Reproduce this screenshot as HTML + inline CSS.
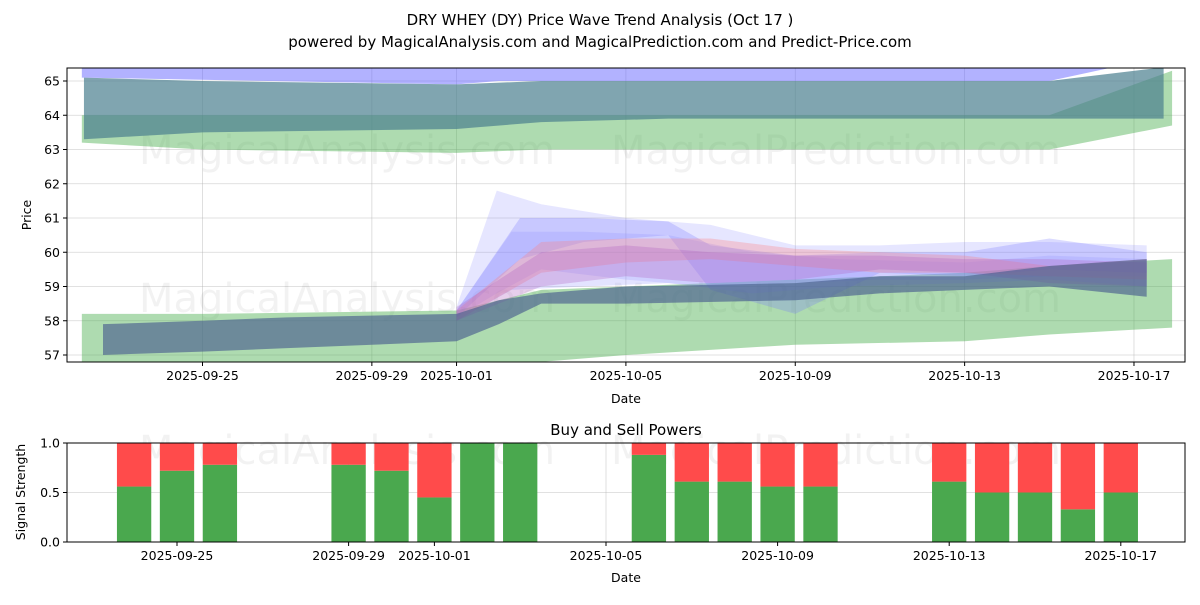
<!DOCTYPE html>
<html><head><meta charset="utf-8"><style>
body{margin:0;background:#fff;font-family:"Liberation Sans","DejaVu Sans",sans-serif;}
svg text{font-family:"DejaVu Sans","Liberation Sans",sans-serif;}
</style></head><body>
<svg id="c" width="1200" height="600" xmlns="http://www.w3.org/2000/svg"></svg>
<script>
// ---- data ----
const xTickLabels=["2025-09-25","2025-09-29","2025-10-01","2025-10-05","2025-10-09","2025-10-13","2025-10-17"];
const xTickDays=[0,4,6,10,14,18,22];
const yTicks=[57,58,59,60,61,62,63,64,65];
// bands: x in days from 2025-09-25
const bandX_green=[-2.85,0,6,7,8,10,14,18,20,22.9];
const bandHi_green=[58.2,58.2,58.3,58.6,58.9,59.0,59.2,59.4,59.6,59.8];
const bandLo_green=[56.6,56.6,56.5,56.6,56.8,57.0,57.3,57.4,57.6,57.8];
const bandX_dark=[-2.35,0,2,6,7,8,10,14,16,18,20,22.3];
const bandHi_dark=[57.9,58.0,58.1,58.2,58.6,58.8,59.0,59.1,59.3,59.3,59.6,59.8];
const bandLo_dark=[57.0,57.1,57.2,57.4,57.9,58.5,58.5,58.6,58.8,58.9,59.0,58.7];
const bandX_w1=[6,6.95,8,10,12,14,16,18,20,22.3];
const bandHi_w1=[58.4,61.8,61.4,61.0,60.8,60.2,60.2,60.3,60.3,60.2];
const bandLo_w1=[58.1,58.8,59.5,59.2,59.0,59.1,59.2,59.2,59.3,59.3];
const bandX_w2=[6,7.5,9,11,12,14,16,18,20,22.3];
const bandHi_w2=[58.3,61.0,61.0,60.9,60.2,59.9,60.0,60.0,60.4,60.0];
const bandLo_w2=[58.1,59.8,60.3,60.5,58.9,58.2,59.4,59.3,59.5,59.4];
const bandX_w3=[6,8,10,12,14,16,18,20,22.3];
const bandHi_w3=[58.3,60.3,60.4,60.4,60.1,60.0,59.9,59.6,59.8];
const bandLo_w3=[58.0,59.4,59.7,59.8,59.6,59.4,59.4,59.3,59.2];
const bandX_w4=[6,8,10,12,14,16,18,20,22.3];
const bandHi_w4=[58.4,60.0,60.2,60.0,59.9,59.9,59.8,59.8,59.7];
const bandLo_w4=[58.0,59.0,59.3,59.1,59.2,59.5,59.4,59.1,59.0];
const bandX_w5=[6,7.3,9,11,13,15,18,20,22.3];
const bandHi_w5=[58.3,60.6,60.6,60.5,60.0,59.8,59.7,59.9,59.8];
const bandLo_w5=[58.0,58.9,59.0,59.1,58.8,59.0,59.1,59.2,59.0];
const bandX_top1=[-2.85,6,7,20,21.5,22.9];
const bandHi_top1=[65.6,65.6,65.6,65.6,65.6,65.6];
const bandLo_top1=[65.1,64.9,65.0,65.0,65.4,65.4];
const bandX_top2=[-2.8,0,6,8,11,20,22.7];
const bandHi_top2=[65.1,65.0,64.9,65.0,65.0,65.0,65.4];
const bandLo_top2=[63.3,63.5,63.6,63.8,63.9,63.9,63.9];
const bandX_top3=[-2.85,0,6,8,20,22.9];
const bandHi_top3=[64.0,64.0,64.0,64.0,64.0,65.3];
const bandLo_top3=[63.2,63.0,62.9,63.0,63.0,63.7];
const barDays=[-1,0,1,4,5,6,7,8,11,12,13,14,15,18,19,20,21,22];
const buyVals=[0.56,0.72,0.78,0.78,0.72,0.45,1,1,0.88,0.61,0.61,0.56,0.56,0.61,0.5,0.5,0.33,0.5];
const bTicks=[0,0.5,1.0];

// ---- scales ----
const L=67,R=1185,T1=68,B1=362,T2=443,B2=542;
const X=d=>202.5+d*42.34;
const Xb=d=>177+d*42.9;
const Y=v=>81+(65-v)*34.25;
const Y2=v=>542-v*99;
const svg=document.getElementById('c');
const NS="http://www.w3.org/2000/svg";
function mk(tag,at,parent){const e=document.createElementNS(NS,tag);for(const k in at)e.setAttribute(k,at[k]);(parent||svg).appendChild(e);return e;}
function txt(s,at,parent){const e=mk('text',at,parent);e.textContent=s;return e;}

const defs=mk('defs',{});
const cp=mk('clipPath',{id:'cp1'},defs);mk('rect',{x:L,y:T1,width:R-L,height:B1-T1},cp);

xTickDays.forEach(d=>{const g=mk('line',{x1:X(d),x2:X(d),y1:T1,y2:B1,stroke:'#b0b0b0','stroke-width':0.8,'stroke-opacity':0.5});

});
yTicks.forEach(v=>{const g=mk('line',{x1:L,x2:R,y1:Y(v),y2:Y(v),stroke:'#b0b0b0','stroke-width':0.8,'stroke-opacity':0.5});

});

[[347,150],[836,150],[347,298],[836,298],[347,450],[836,450]].forEach(p=>{
 const w=txt(p[0]<600?'MagicalAnalysis.com':'MagicalPrediction.com',{x:p[0],y:p[1]+14,'text-anchor':'middle','font-size':40,fill:'#000','fill-opacity':0.05});
 
 
});

const gB=mk('g',{'clip-path':'url(#cp1)'});
function band(xs,hi,lo,color,op,name){
 let pts=xs.map((d,i)=>X(d)+','+Y(hi[i]));
 for(let i=xs.length-1;i>=0;i--)pts.push(X(xs[i])+','+Y(lo[i]));
 const p=mk('polygon',{points:pts.join(' '),fill:color,'fill-opacity':op},gB);
 
 
}
band(bandX_top3,bandHi_top3,bandLo_top3,'#4caf50',0.45,'band-top-green');
band(bandX_top1,bandHi_top1,bandLo_top1,'#6666ff',0.5,'band-top-blue');
band(bandX_top2,bandHi_top2,bandLo_top2,'#4a7f8f',0.7,'band-top-teal');
band(bandX_green,bandHi_green,bandLo_green,'#4caf50',0.45,'band-green');
band(bandX_w1,bandHi_w1,bandLo_w1,'#8080ff',0.2,'band-wave-1');
band(bandX_w2,bandHi_w2,bandLo_w2,'#7070ff',0.25,'band-wave-2');
band(bandX_w5,bandHi_w5,bandLo_w5,'#9090ff',0.25,'band-wave-5');
band(bandX_w3,bandHi_w3,bandLo_w3,'#ff7f7f',0.3,'band-wave-3');
band(bandX_w4,bandHi_w4,bandLo_w4,'#b060c0',0.3,'band-wave-4');
band(bandX_dark,bandHi_dark,bandLo_dark,'#4a5f8f',0.65,'band-dark');

const f1=mk('rect',{x:L,y:T1,width:R-L,height:B1-T1,fill:'none',stroke:'#000','stroke-width':1});

xTickDays.forEach((d,i)=>{mk('line',{x1:X(d),x2:X(d),y1:B1,y2:B1+4,stroke:'#000'});
 const t=txt(xTickLabels[i],{x:X(d),y:B1+18,'text-anchor':'middle','font-size':12.5,fill:'#000'});
 });
yTicks.forEach(v=>{mk('line',{x1:L-4,x2:L,y1:Y(v),y2:Y(v),stroke:'#000'});
 const t=txt(String(v),{x:L-7,y:Y(v)+4.5,'text-anchor':'end','font-size':12.5,fill:'#000'});
 });
let t;
t=txt('Date',{x:626,y:403,'text-anchor':'middle','font-size':12.5});
t=txt('Price',{x:31,y:215,'text-anchor':'middle','font-size':12.5,transform:'rotate(-90 31 215)'});
t=txt('DRY WHEY (DY) Price Wave Trend Analysis (Oct 17 )',{x:600,y:25,'text-anchor':'middle','font-size':15});
t=txt('powered by MagicalAnalysis.com and MagicalPrediction.com and Predict-Price.com',{x:600,y:47,'text-anchor':'middle','font-size':15});

// bottom chart
xTickDays.forEach(d=>{mk('line',{x1:Xb(d),x2:Xb(d),y1:T2,y2:B2,stroke:'#b0b0b0','stroke-width':0.8,'stroke-opacity':0.5});});
bTicks.forEach(v=>{mk('line',{x1:L,x2:R,y1:Y2(v),y2:Y2(v),stroke:'#b0b0b0','stroke-width':0.8,'stroke-opacity':0.5});});
barDays.forEach((d,i)=>{
 const w=0.8*42.9,x0=Xb(d)-w/2;
 const b=mk('rect',{x:x0,y:Y2(buyVals[i]),width:w,height:Y2(0)-Y2(buyVals[i]),fill:'#4aa84e'});
 
 
 const s=mk('rect',{x:x0,y:Y2(1),width:w,height:Y2(buyVals[i])-Y2(1),fill:'#ff4b4b'});
 
 
});
const f2=mk('rect',{x:L,y:T2,width:R-L,height:B2-T2,fill:'none',stroke:'#000','stroke-width':1});

xTickDays.forEach((d,i)=>{mk('line',{x1:Xb(d),x2:Xb(d),y1:B2,y2:B2+4,stroke:'#000'});
 const t=txt(xTickLabels[i],{x:Xb(d),y:B2+18,'text-anchor':'middle','font-size':12.5});
 });
bTicks.forEach(v=>{mk('line',{x1:L-4,x2:L,y1:Y2(v),y2:Y2(v),stroke:'#000'});
 const t=txt(v.toFixed(1),{x:L-7,y:Y2(v)+4.5,'text-anchor':'end','font-size':12.5});
 });
t=txt('Buy and Sell Powers',{x:626,y:435,'text-anchor':'middle','font-size':15});
t=txt('Date',{x:626,y:582,'text-anchor':'middle','font-size':12.5});
t=txt('Signal Strength',{x:25,y:492,'text-anchor':'middle','font-size':12.5,transform:'rotate(-90 25 492)'});
</script>
</body></html>
